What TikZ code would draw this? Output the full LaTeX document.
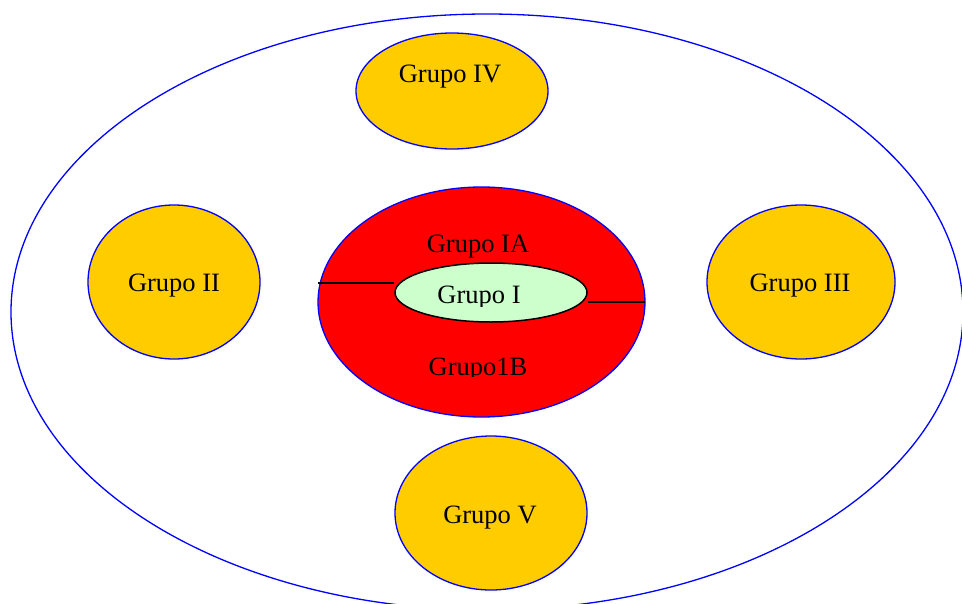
\documentclass[tikz,border=0pt]{standalone}
\usepackage{fontspec}
\setmainfont{Liberation Serif}
\usetikzlibrary{shapes.geometric}
\definecolor{goldfill}{HTML}{FFCC00}
\definecolor{mintfill}{HTML}{CCFFCC}
\tikzset{
  oval/.style={ellipse, draw=blue, line width=1.3pt, inner sep=0pt},
  grp/.style={oval, fill=goldfill},
  lbl/.style={font=\fontsize{26.5}{30}\selectfont, inner sep=0pt, text=black},
  link/.style={draw=black, line width=1.5pt}
}
\begin{document}
\begin{tikzpicture}[x=1pt,y=-1pt]
\path[use as bounding box, fill=white] (0,0) rectangle (962,603);
\clip (0,0) rectangle (962,603);
\node[oval, minimum width=952pt, minimum height=596pt] (outer) at (487,312) {};
\node[grp, minimum width=192pt, minimum height=116pt] (g4) at (452,91) {};
\node[lbl] (t4) at (450,77) {Grupo IV};
\node[grp, minimum width=172pt, minimum height=154pt] (g2) at (174,282) {};
\node[lbl] (t2) at (174,286) {Grupo II};
\node[grp, minimum width=188pt, minimum height=154pt] (g3) at (801,282) {};
\node[lbl] (t3) at (800,286) {Grupo III};
\node[grp, minimum width=192pt, minimum height=154pt] (g5) at (491,513) {};
\node[lbl] (t5) at (490,518) {Grupo V};
\node[oval, fill=red, minimum width=327pt, minimum height=230pt] (red) at (481.5,302) {};
\node[lbl] (tia) at (478,247) {Grupo IA};
\begin{scope}
\clip (300,340) rectangle (660,376);
\node[lbl] (tib) at (478,370) {Grupo1B};
\end{scope}
\node[ellipse, draw=black, line width=1.5pt, fill=mintfill, inner sep=0pt, minimum width=192pt, minimum height=59pt] (green) at (491,292.5) {};
\begin{scope}
\clip (395,270) rectangle (590,306);
\node[lbl] (ti) at (479,298) {Grupo I};
\end{scope}
\coordinate (redL) at (318,283);
\coordinate (redR) at (645,302);
\draw[link] (redL) -- (green.west |- redL);
\draw[link] (green.east |- redR) -- (redR);
\end{tikzpicture}
\end{document}
